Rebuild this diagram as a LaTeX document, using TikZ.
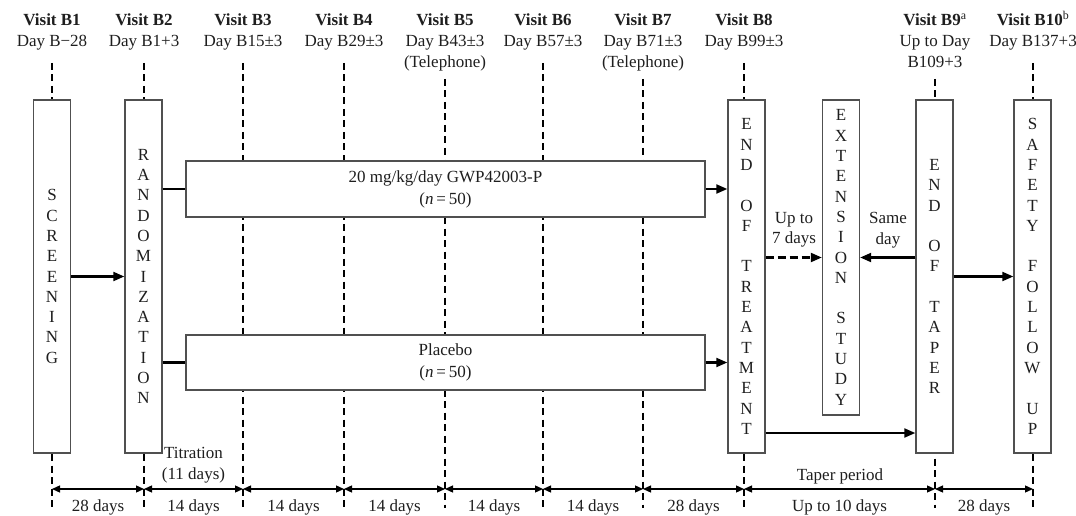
\documentclass[tikz,border=0pt]{standalone}
\usepackage{fontspec}
\setmainfont{Liberation Serif}
\usetikzlibrary{arrows.meta,calc}
\definecolor{boxc}{RGB}{80,80,80}
\definecolor{txtc}{RGB}{30,30,30}
\tikzset{vbox/.style={draw=boxc,fill=white,line width=1.4pt,minimum width=37pt,inner sep=0pt,align=center,font=\fontsize{17}{20.3}\selectfont},
armbox/.style={draw=boxc,fill=white,line width=1.4pt,minimum width=519pt,minimum height=55pt,inner sep=0pt,align=center,font=\fontsize{17}{22}\selectfont},
arr/.style={line width=2.1pt,-{Triangle[length=11pt,width=9pt]}},
dimarr/.style={line width=1.3pt,{Triangle[length=8pt,width=7pt]}-{Triangle[length=8pt,width=7pt]}},
vline/.style={line width=2pt,dash pattern=on 7pt off 4.5pt},
lab/.style={midway,yshift=-18pt}}
\begin{document}
\begin{tikzpicture}[x=1pt,y=-1pt,font=\fontsize{17}{20.5}\selectfont,text=txtc]
\useasboundingbox(0,0)rectangle(1076,516);
\foreach \x/\v/\s/\d/\y in {52/1//Day B−28/63,144/2//Day B1+3/63,243/3//Day B15±3/63,344/4//Day B29±3/63,445/5//Day B43±3/79,543/6//Day B57±3/63,643/7//Day B71±3/79,744/8//Day B99±3/63,935/9/\textsuperscript{a}/Up to Day/79,1033/10/\textsuperscript{b}/Day B137+3/63}{
\node[anchor=base](vis\v)at(\x,26){\textbf{Visit B\v}\s};\node[anchor=base](day\v)at(\x,47){\d};
\draw[vline](\x,\y)--(\x,508);\coordinate(g\v)at(\x,489);}
\node[anchor=base](tel5)at(445,68){(Telephone)};\node[anchor=base](tel7)at(643,68){(Telephone)};\node[anchor=base](up9)at(935,68){B109+3};
\node[vbox,minimum height=353pt](scr)at(52,276.5){S\\C\\R\\E\\E\\N\\I\\N\\G};
\node[vbox,minimum height=353pt](rand)at(143.5,276.5){R\\A\\N\\D\\O\\M\\I\\Z\\A\\T\\I\\O\\N};
\node[armbox,minimum height=56pt](act)at(445.5,189){20 mg/kg/day GWP42003-P\\(\textit{n}\,=\,50)};
\node[armbox](plc)at(445.5,362.5){Placebo\\(\textit{n}\,=\,50)};
\node[vbox,minimum height=353pt](eot)at(746.5,276.5){E\\N\\D\\[20.3pt]O\\F\\[20.3pt]T\\R\\E\\A\\T\\M\\E\\N\\T};
\node[vbox,minimum height=315pt](ext)at(841,257.5){E\\X\\T\\E\\N\\S\\I\\O\\N\\[20.3pt]S\\T\\U\\D\\Y};
\node[vbox,minimum height=353pt](eotp)at(934.5,276.5){E\\N\\D\\[20.3pt]O\\F\\[20.3pt]T\\A\\P\\E\\R};
\node[vbox,minimum height=353pt](sfu)at(1032.5,276.5){S\\A\\F\\E\\T\\Y\\[20.3pt]F\\O\\L\\L\\O\\W\\[20.3pt]U\\P};
\draw[arr](scr)--(rand);
\draw[line width=2.1pt](rand.east|-act)--(act.west);\draw[line width=2.1pt](rand.east|-plc)--(plc.west);
\draw[arr](act.east)--(act.east-|eot.west);\draw[arr](plc.east)--(plc.east-|eot.west);
\draw[arr,dash pattern=on 8pt off 4pt](eot.east|-ext)--(ext.west);\draw[arr](eotp.west|-ext)--(ext.east);
\draw[arr](eotp)--(sfu);
\coordinate(low)at(0,433);\draw[arr](eot.east|-low)--(eotp.west|-low);
\node[align=center](up7)at(794,230){Up to\\7 days};\node[align=center](same)at(888,230){Same\\day};
\foreach \a/\b/\l in {1/2/28 days,2/3/14 days,3/4/14 days,4/5/14 days,5/6/14 days,6/7/14 days,7/8/28 days,8/9/Up to 10 days,9/10/28 days}{\draw[dimarr](g\a)--node[lab]{\l}(g\b);}
\node[align=center](tit)at(193.5,465){Titration\\(11 days)};\node(tap)at(840,476){Taper period};
\end{tikzpicture}
\end{document}
